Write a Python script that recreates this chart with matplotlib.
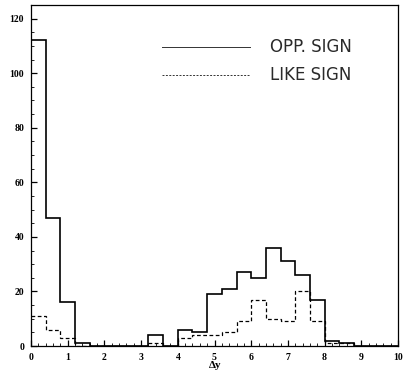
import numpy as np
import matplotlib
matplotlib.use("Agg")
import matplotlib.pyplot as plt
from matplotlib.ticker import MultipleLocator

bin_edges = np.round(np.arange(0, 10.0001, 0.4), 2)
opp_sign = [112, 47, 16, 1, 0, 0, 0, 0, 4, 0, 6, 5, 19, 21, 27, 25, 36, 31, 26, 17, 2, 1, 0, 0, 0]
like_sign = [11, 6, 3, 0, 0, 0, 0, 0, 1, 0, 3, 4, 4, 5, 9, 17, 10, 9, 20, 9, 1, 1, 0, 0, 0]
x_ticks = list(range(0, 11))
y_ticks = [0, 20, 40, 60, 80, 100, 120]

fig = plt.figure(figsize=(4.03, 3.83), dpi=100)
ax = fig.add_axes([31/403, 1-346/383, (398-31)/403, (346-5)/383])

ax.stairs(opp_sign, bin_edges, color='black', lw=1.2, baseline=None)
ax.stairs(like_sign, bin_edges, color='black', lw=0.9, linestyle=(0, (3, 2)), baseline=None)

ax.set_xlim(0, 10)
ax.set_ylim(0, 125)
ax.set_xticks(x_ticks)
ax.set_yticks(y_ticks)
ax.xaxis.set_minor_locator(MultipleLocator(0.2))
ax.yaxis.set_minor_locator(MultipleLocator(5))
ax.tick_params(which='both', direction='in', top=False, right=False)
ax.tick_params(which='major', length=4, width=0.9, labelsize=7, pad=5)
ax.tick_params(which='minor', length=2, width=0.6)
for lab in ax.get_xticklabels() + ax.get_yticklabels():
    lab.set_fontfamily('Liberation Serif')
    lab.set_fontweight('bold')
for s in ax.spines.values():
    s.set_linewidth(0.9)

ax.set_xlabel('Δy', fontfamily='Liberation Serif', fontweight='bold', fontsize=8, va='center')
ax.xaxis.set_label_coords((215 - 31) / 367, (346 - 366) / 341)

# legend drawn manually in axes coordinates
def ax_xy(px, py):
    return ((px - 31) / (398 - 31), (346 - py) / (346 - 5))

x0, y0 = ax_xy(162, 47)
x1, _ = ax_xy(250, 47)
ax.plot([x0, x1], [y0, y0], transform=ax.transAxes, color='#333333', lw=0.7)
tx, _ = ax_xy(270, 47)
ax.text(tx, y0, 'OPP. SIGN', transform=ax.transAxes, fontsize=12, va='center', ha='left',
        fontfamily='DejaVu Sans', color='#2a2a2a')
x0, y1 = ax_xy(162, 75)
ax.plot([x0, x1], [y1, y1], transform=ax.transAxes, color='#333333', lw=0.7, linestyle=(0, (2, 1.5)))
ax.text(tx, y1, 'LIKE SIGN', transform=ax.transAxes, fontsize=12, va='center', ha='left',
        fontfamily='DejaVu Sans', color='#2a2a2a')

fig.savefig('out.png', dpi=100)
